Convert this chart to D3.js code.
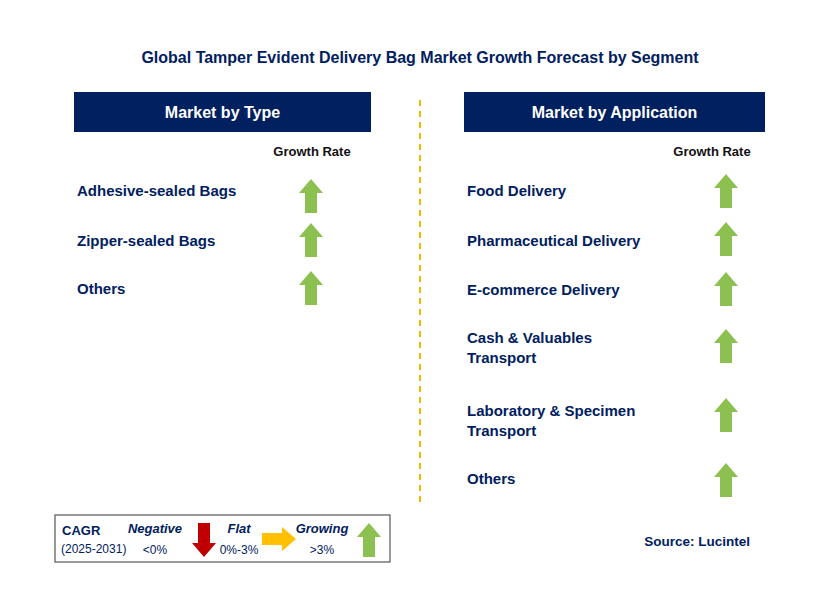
<!DOCTYPE html><html><head><meta charset="utf-8"><script src="https://cdn.jsdelivr.net/npm/d3@7"></script>
<style>body{margin:0;background:#fff}text{font-family:Arial,"Liberation Sans",sans-serif}</style></head><body><svg id="c" width="829" height="590"></svg>
<script>
const typeLabels=[["Adhesive-sealed Bags"],["Zipper-sealed Bags"],["Others"]];
const typeY=[196,240,288];
const appLabels=[["Food Delivery"],["Pharmaceutical Delivery"],["E-commerce Delivery"],["Cash & Valuables","Transport"],["Laboratory & Specimen","Transport"],["Others"]];
const appY=[191,239,289,346,415,480];
const textY=[191,241,290,348,421,479];
const typeTextY=[191,241,289];
const navy="#002060",green="#8cc152";
const svg=d3.select("#c");
svg.append("text").attr("x",420).attr("y",63).attr("text-anchor","middle").attr("font-size",16).attr("font-weight","bold").attr("fill",navy).text("Global Tamper Evident Delivery Bag Market Growth Forecast by Segment");
function arrow(g,cx,cy,color,dir){
  const pts=[[0,-17],[12,-3],[6,-3],[6,17],[-6,17],[-6,-3],[-12,-3]];
  const rot={up:0,down:180,right:90}[dir];
  g.append("polygon").attr("points",pts.map(q=>q.join(",")).join(" ")).attr("fill",color).attr("transform",`translate(${cx},${cy}) rotate(${rot})`);
}
function panel(x0,w,title,labels,ys,ty,ax,gx){
  svg.append("rect").attr("x",x0).attr("y",92).attr("width",w).attr("height",40).attr("fill",navy);
  svg.append("text").attr("x",x0+w/2).attr("y",118).attr("text-anchor","middle").attr("fill","#fff").attr("font-size",16).attr("font-weight","bold").text(title);
  svg.append("text").attr("x",gx).attr("y",156).attr("text-anchor","middle").attr("font-size",13).attr("font-weight","bold").attr("fill","#111").text("Growth Rate");
  labels.forEach((l,i)=>{
    const t=svg.append("text").attr("font-size",15).attr("font-weight","bold").attr("fill",navy);
    const y0=ty[i]-(l.length-1)*10+5;
    l.forEach((s,j)=>t.append("tspan").attr("x",x0+3).attr("y",y0+j*20).text(s));
    arrow(svg,ax,ys[i],green,"up");
  });
}
panel(74,297,"Market by Type",typeLabels,typeY,typeTextY,311,312);
panel(464,301,"Market by Application",appLabels,appY,textY,726,712);
svg.append("line").attr("x1",420).attr("x2",420).attr("y1",100).attr("y2",505).attr("stroke","#f5b800").attr("stroke-width",2).attr("stroke-dasharray","6,5");
svg.append("rect").attr("x",55).attr("y",515).attr("width",335).attr("height",47).attr("fill","#fff").attr("stroke","#555").attr("stroke-width",1.2);
svg.append("text").attr("x",62).attr("y",535).attr("font-size",13).attr("font-weight","bold").attr("fill",navy).text("CAGR");
svg.append("text").attr("x",61).attr("y",553).attr("font-size",12).attr("fill",navy).text("(2025-2031)");
const leg=[["Negative","<0%",155,"#c00000","down",204],["Flat","0%-3%",239,"#ffc000","right",279],["Growing",">3%",322,green,"up",369]];
leg.forEach(d=>{
  svg.append("text").attr("x",d[2]).attr("y",533).attr("text-anchor","middle").attr("font-size",13).attr("font-weight","bold").attr("font-style","italic").attr("fill",navy).text(d[0]);
  svg.append("text").attr("x",d[2]).attr("y",554).attr("text-anchor","middle").attr("font-size",12).attr("fill",navy).text(d[1]);
  arrow(svg,d[5],d[4]=="right"?539:540,d[3],d[4]);
});
svg.append("text").attr("x",750).attr("y",546).attr("text-anchor","end").attr("font-size",13.5).attr("font-weight","bold").attr("fill",navy).text("Source: Lucintel");
</script></body></html>
